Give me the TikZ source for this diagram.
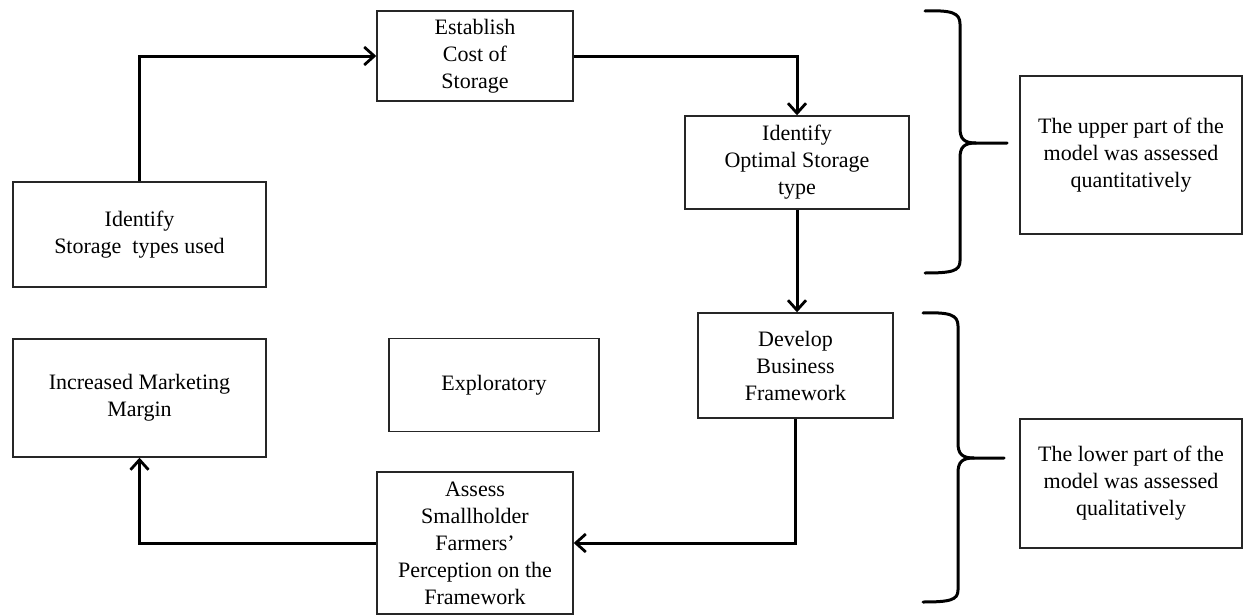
\documentclass[tikz,border=0pt]{standalone}
\usepackage{fontspec}
\setmainfont{Liberation Serif}
\usetikzlibrary{arrows.meta}

\tikzset{
  stage/.style={draw=black!85, line width=1.4pt, fill=white, inner sep=0pt,
    align=center, text=black, font=\fontsize{22}{27}\selectfont},
  flow/.style={line width=3pt, black, line join=miter,
    -{Straight Barb[length=10pt, width=18pt, line width=2.8pt]}},
  bracket/.style={line width=3pt, black, line cap=round, line join=round}
}

\begin{document}
\begin{tikzpicture}[x=1pt, y=-1pt]
  % canvas
  \fill[white] (0,0) rectangle (1243,616);
  \useasboundingbox (0,0) rectangle (1243,616);

  % process boxes
  \node[stage, minimum width=196pt, minimum height=90pt]  (est)    at (475,56)    {Establish\\Cost of\\Storage};
  \node[stage, minimum width=224pt, minimum height=93pt]  (opt)    at (797,162.5) {Identify\\Optimal Storage\\type};
  \node[stage, minimum width=253pt, minimum height=105pt] (ident)  at (139.5,234.5) {Identify\\Storage\ \ types used};
  \node[stage, minimum width=195pt, minimum height=105pt] (dev)    at (795.5,365.5) {Develop\\Business\\Framework};
  \node[stage, minimum width=253pt, minimum height=118pt] (inc)    at (139.5,398) {Increased Marketing\\Margin};
  \node[stage, minimum width=210pt, minimum height=93pt]  (expl)   at (494,385) {Exploratory};
  \node[stage, minimum width=196pt, minimum height=142pt] (assess) at (475,543)   {Assess\\Smallholder\\Farmers'\\Perception on the\\Framework};

  % side notes
  \node[stage, minimum width=222pt, minimum height=158pt] (upper) at (1131,155)   {The upper part of the\\model was assessed\\quantitatively};
  \node[stage, minimum width=222pt, minimum height=129pt] (lower) at (1131,483.5) {The lower part of the\\model was assessed\\qualitatively};

  % flow connectors
  \draw[flow] (ident.north) |- (est.west);
  \draw[flow] (est.east) -| (opt.north);
  \draw[flow] (opt.south) -- (opt.south |- dev.north);
  \draw[flow] (dev.south) |- (assess.east);
  \draw[flow] (assess.west) -| (inc.south);

  % upper brace
  \draw[bracket] (925,11) .. controls (952,10) and (960,13) .. (960,24)
    -- (960,128) .. controls (960,139) and (964,143) .. (976,143) -- (1007,143);
  \draw[bracket] (976,143) .. controls (964,143) and (960,147) .. (960,158)
    -- (960,261) .. controls (960,271) and (952,273) .. (925,273);

  % lower brace
  \draw[bracket] (923,313) .. controls (950,312) and (958,315) .. (958,326)
    -- (958,443) .. controls (958,454) and (962,458) .. (974,458) -- (1004,458);
  \draw[bracket] (974,458) .. controls (962,458) and (958,462) .. (958,473)
    -- (958,590) .. controls (958,600) and (950,602) .. (923,602);
\end{tikzpicture}
\end{document}
